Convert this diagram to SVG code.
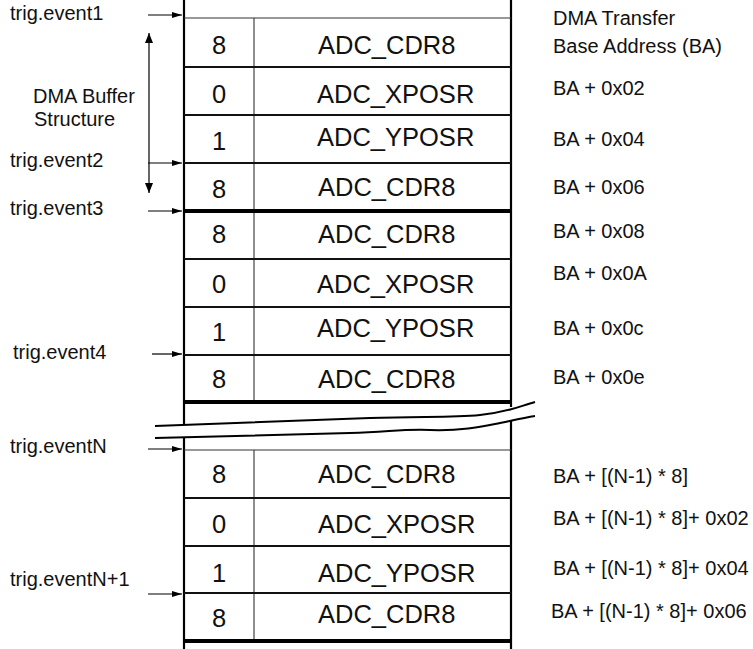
<svg xmlns="http://www.w3.org/2000/svg" width="753" height="649" viewBox="0 0 753 649">
<style>
text{font-family:"Liberation Sans",Arial,sans-serif;fill:#111}
.lbl{font-size:20px}
.cell{font-size:25.5px}
.num{font-size:25.5px;text-anchor:middle}
.thin{stroke:#333;stroke-width:1.2;fill:none}
.norm{stroke:#111;stroke-width:2;fill:none}
.thick{stroke:#000;stroke-width:4;fill:none}
.outer{stroke:#000;stroke-width:2.2;fill:none}
.div{stroke:#444;stroke-width:1.2;fill:none}
.arr{stroke:#000;stroke-width:1.2;fill:none}
.wave{stroke:#000;stroke-width:2;fill:none}
</style>
<defs>
<marker id="ah" markerUnits="userSpaceOnUse" markerWidth="10" markerHeight="6" refX="10" refY="3" orient="auto"><path d="M0,0 L10,3 L0,6 z" fill="#000"/></marker>
<marker id="ah2" markerUnits="userSpaceOnUse" markerWidth="10" markerHeight="8" refX="10" refY="4" orient="auto-start-reverse"><path d="M0,0 L10,4 L0,8 z" fill="#000"/></marker>
</defs>

<g id="buffer-frame">
<path class="outer" d="M184,0 V424 M184,437 V649 M511,0 V407 M511,420 V649"/>
<path class="div" d="M254,18 V402 M254,450 V641"/>
<path class="thin" d="M184,18 H511 M184,450 H511"/>
<path class="norm" d="M184,67 H511 M184,115 H511 M184,163 H511 M184,259 H511 M184,307 H511 M184,355 H511 M184,498 H511 M184,546 H511 M184,593 H511"/>
<path class="thick" d="M184,211 H510 M184,402 H510 M184,641 H510"/>
</g>

<g id="break">
<path class="wave" d="M155,426 C250,423 320,420 370,418 S450,418 480,415 S520,406 535,402"/>
<path class="wave" d="M155,438 C250,435 310,434 350,433 S400,429 430,430 S480,427 495,424 S522,418 535,416"/>
</g>

<g id="row1"><text class="num" x="219" y="54">8</text><text class="cell" x="318" y="54">ADC_CDR8</text></g>
<g id="row2"><text class="num" x="219" y="103">0</text><text class="cell" x="317" y="103">ADC_XPOSR</text></g>
<g id="row3"><text class="num" x="219" y="150">1</text><text class="cell" x="317" y="146">ADC_YPOSR</text></g>
<g id="row4"><text class="num" x="219" y="198">8</text><text class="cell" x="318" y="196">ADC_CDR8</text></g>
<g id="row5"><text class="num" x="219" y="243">8</text><text class="cell" x="318" y="243">ADC_CDR8</text></g>
<g id="row6"><text class="num" x="219" y="293">0</text><text class="cell" x="317" y="293">ADC_XPOSR</text></g>
<g id="row7"><text class="num" x="219" y="341">1</text><text class="cell" x="317" y="337">ADC_YPOSR</text></g>
<g id="row8"><text class="num" x="219" y="388">8</text><text class="cell" x="318" y="388">ADC_CDR8</text></g>
<g id="row9"><text class="num" x="219" y="483">8</text><text class="cell" x="318" y="483">ADC_CDR8</text></g>
<g id="row10"><text class="num" x="219" y="533">0</text><text class="cell" x="318" y="533">ADC_XPOSR</text></g>
<g id="row11"><text class="num" x="219" y="582">1</text><text class="cell" x="318" y="582">ADC_YPOSR</text></g>
<g id="row12"><text class="num" x="219" y="627">8</text><text class="cell" x="318" y="623">ADC_CDR8</text></g>

<g id="trig-labels">
<text class="lbl" x="10" y="20">trig.event1</text>
<text class="lbl" x="10" y="167">trig.event2</text>
<text class="lbl" x="10" y="215">trig.event3</text>
<text class="lbl" x="13" y="359">trig.event4</text>
<text class="lbl" x="10" y="453">trig.eventN</text>
<text class="lbl" x="10" y="586">trig.eventN+1</text>
</g>

<g id="dma-buffer-label">
<text class="lbl" x="33" y="103">DMA Buffer</text>
<text class="lbl" x="34" y="126">Structure</text>
</g>

<g id="address-labels">
<text class="lbl" x="553" y="25">DMA Transfer</text>
<text class="lbl" x="553" y="53">Base Address (BA)</text>
<text class="lbl" x="553" y="95">BA + 0x02</text>
<text class="lbl" x="553" y="146">BA + 0x04</text>
<text class="lbl" x="553" y="194">BA + 0x06</text>
<text class="lbl" x="553" y="238">BA + 0x08</text>
<text class="lbl" x="553" y="280">BA + 0x0A</text>
<text class="lbl" x="553" y="335">BA + 0x0c</text>
<text class="lbl" x="553" y="384">BA + 0x0e</text>
<text class="lbl" x="553" y="483">BA + [(N-1) * 8]</text>
<text class="lbl" x="553" y="525">BA + [(N-1) * 8]+ 0x02</text>
<text class="lbl" x="553" y="575">BA + [(N-1) * 8]+ 0x04</text>
<text class="lbl" x="551" y="618">BA + [(N-1) * 8]+ 0x06</text>
</g>

<g id="connectors">
<line class="arr" x1="148" y1="15" x2="182" y2="15" marker-end="url(#ah)"/>
<line class="arr" x1="148" y1="163" x2="182" y2="163" marker-end="url(#ah)"/>
<line class="arr" x1="148" y1="211" x2="182" y2="211" marker-end="url(#ah)"/>
<line class="arr" x1="152" y1="354" x2="182" y2="354" marker-end="url(#ah)"/>
<line class="arr" x1="148" y1="449" x2="182" y2="449" marker-end="url(#ah)"/>
<line class="arr" x1="148" y1="594" x2="182" y2="594" marker-end="url(#ah)"/>
<line class="arr" x1="149" y1="33" x2="149" y2="193" marker-start="url(#ah2)" marker-end="url(#ah2)"/>
</g>
</svg>
